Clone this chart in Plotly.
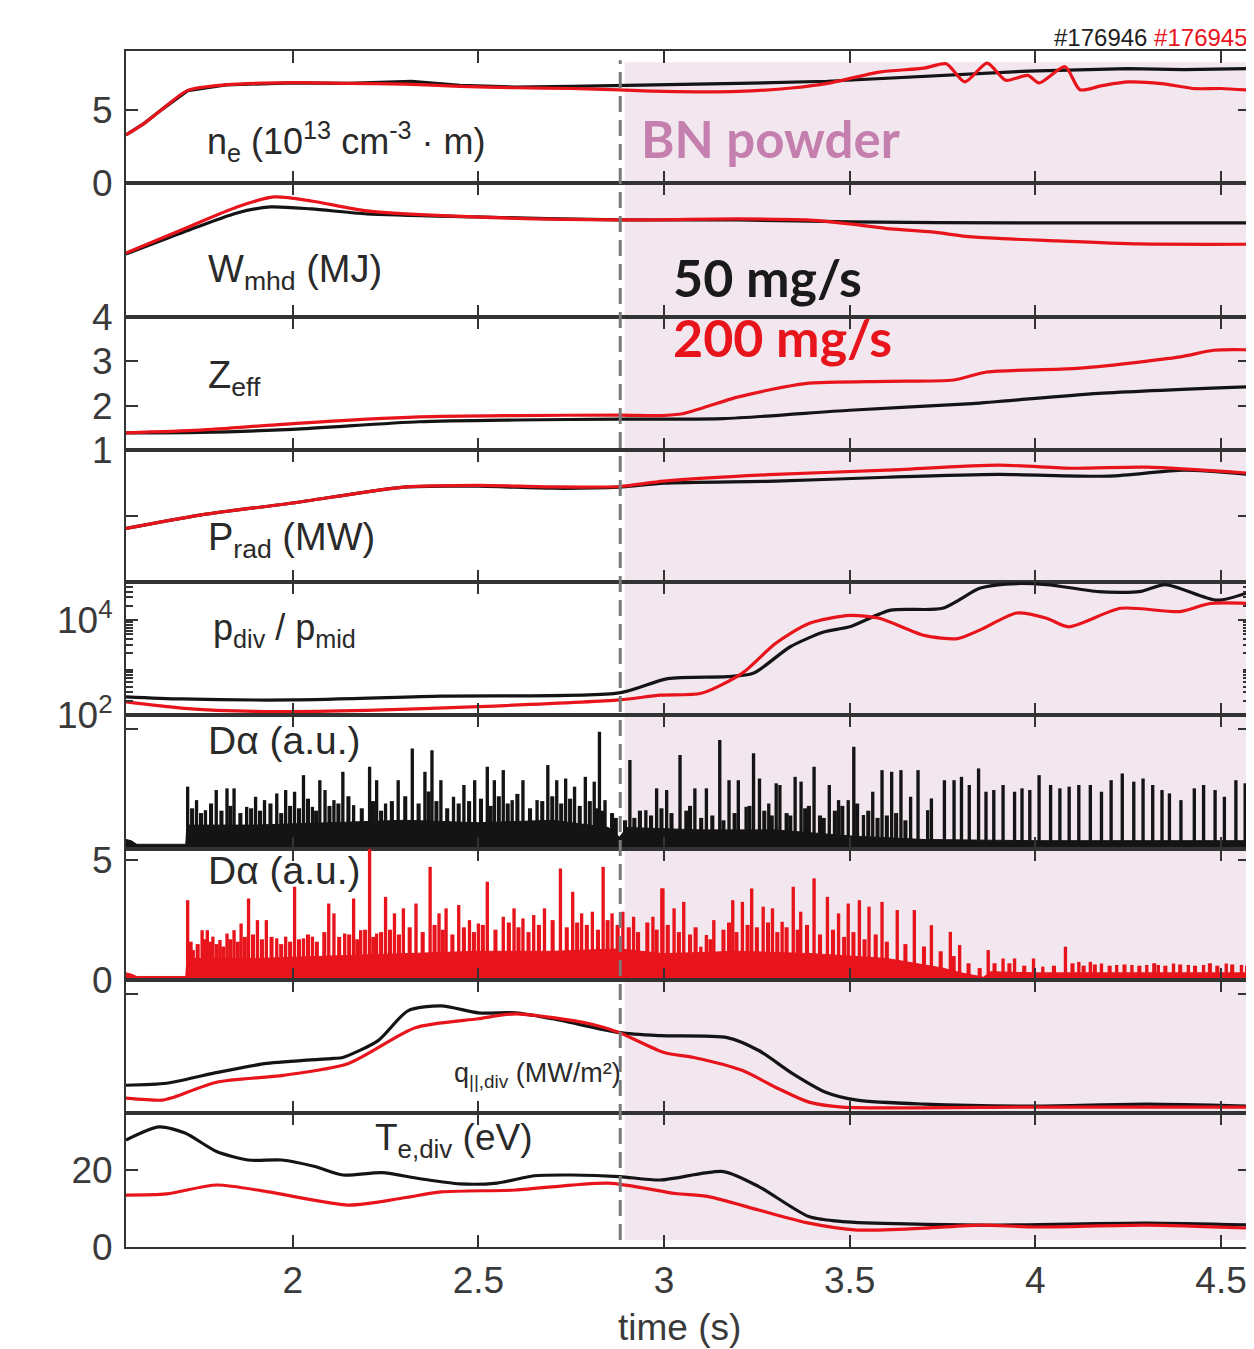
import plotly.graph_objects as go

# ---------------- data ----------------
t_ne_k = [1.551, 1.60, 1.65, 1.717, 1.82, 2.0, 2.15, 2.32, 2.45, 2.60, 2.75, 2.88, 3.0, 3.2, 3.44, 3.71, 3.98, 4.25, 4.40, 4.578]
ne_k = [3.3, 4.1, 5.1, 6.35, 6.75, 6.88, 6.85, 7.0, 6.72, 6.6, 6.65, 6.7, 6.72, 6.85, 7.0, 7.34, 7.7, 7.87, 7.8, 7.87]
t_ne_r = [1.551, 1.60, 1.65, 1.717, 1.82, 2.0, 2.15, 2.30, 2.45, 2.60, 2.75, 2.88, 3.0, 3.2, 3.35, 3.44, 3.58, 3.70, 3.76, 3.81,
          3.87, 3.92, 3.98, 4.01, 4.08, 4.12, 4.18, 4.25, 4.34, 4.43, 4.50, 4.578]
ne_r = [3.3, 4.1, 5.1, 6.37, 6.75, 6.9, 6.85, 6.8, 6.65, 6.55, 6.5, 6.4, 6.3, 6.3, 6.55, 6.85, 7.63, 7.9, 8.2, 6.95,
        8.25, 7.07, 7.4, 6.88, 8.0, 6.42, 6.7, 6.95, 6.84, 6.49, 6.5, 6.38]

t_w_k = [1.551, 1.70, 1.85, 1.94, 2.05, 2.2, 2.49, 2.88, 3.2, 3.5, 3.95, 4.578]
w_k = [0.63, 0.84, 1.04, 1.10, 1.08, 1.03, 1.0, 0.97, 0.97, 0.95, 0.94, 0.94]
t_w_r = [1.551, 1.70, 1.85, 1.95, 2.05, 2.2, 2.49, 2.88, 3.2, 3.385, 3.5, 3.61, 3.72, 3.83, 4.06, 4.28, 4.578]
w_r = [0.64, 0.87, 1.1, 1.2, 1.16, 1.06, 1.0, 0.97, 0.98, 0.97, 0.93, 0.88, 0.85, 0.80, 0.76, 0.73, 0.727]

t_z_k = [1.551, 1.75, 2.0, 2.34, 2.6, 2.88, 3.16, 3.5, 3.83, 4.17, 4.578]
z_k = [1.39, 1.40, 1.47, 1.64, 1.68, 1.70, 1.71, 1.9, 2.05, 2.28, 2.43]
t_z_r = [1.551, 1.75, 2.0, 2.34, 2.6, 2.88, 2.99, 3.05, 3.2, 3.38, 3.6, 3.78, 3.87, 4.11, 4.39, 4.48, 4.578]
z_r = [1.39, 1.45, 1.6, 1.75, 1.78, 1.79, 1.78, 1.82, 2.2, 2.5, 2.55, 2.58, 2.76, 2.84, 3.1, 3.25, 3.26]

t_p_k = [1.551, 1.75, 2.0, 2.3, 2.5, 2.7, 2.88, 3.0, 3.3, 3.6, 3.9, 4.2, 4.4, 4.578]
p_k = [2.44, 3.05, 3.6, 4.32, 4.36, 4.27, 4.32, 4.5, 4.59, 4.77, 4.9, 4.82, 5.09, 4.9]
t_p_r = [1.551, 1.75, 2.0, 2.3, 2.5, 2.7, 2.88, 3.0, 3.3, 3.6, 3.9, 4.1, 4.3, 4.578]
p_r = [2.44, 3.05, 3.6, 4.32, 4.4, 4.33, 4.35, 4.59, 4.9, 5.09, 5.32, 5.18, 5.23, 4.95]

t_pd_k = [1.551, 1.7, 2.0, 2.4, 2.88, 3.01, 3.17, 3.24, 3.34, 3.43, 3.5, 3.61, 3.75, 3.85, 3.92, 4.03, 4.17, 4.28, 4.35, 4.49, 4.578]
pd_k = [243, 219, 209, 251, 295, 589, 646, 759, 2754, 5623, 7244, 16218, 17783, 46774, 57544, 56234, 39811, 39811, 56234, 26303, 39811]
t_pd_r = [1.551, 1.7, 1.9, 2.2, 2.5, 2.88, 2.99, 3.10, 3.21, 3.30, 3.39, 3.5, 3.58, 3.70, 3.79, 3.85, 3.95, 4.03, 4.09, 4.23, 4.39, 4.47, 4.578]
pd_r = [190, 141, 120, 126, 151, 209, 263, 288, 759, 3236, 8511, 12589, 10965, 4786, 4074, 6166, 14125, 10965, 7244, 17783, 15136, 22387, 22387]

# D-alpha: inter-ELM level, large ELM spikes and smaller spikes (time, height)
t_da_base_k = [1.551, 1.565, 1.58, 1.712, 1.715, 1.9, 2.1, 2.3, 2.5, 2.7, 2.85, 2.88, 2.9, 3.1, 3.3, 3.5, 3.7, 4.0, 4.3, 4.578]
da_base_k = [0.4, 0.35, 0.2, 0.2, 1.0, 1.0, 1.1, 1.2, 1.1, 1.2, 0.9, 0.5, 0.9, 0.8, 0.8, 0.55, 0.4, 0.35, 0.35, 0.35]
elm_t_k = [1.717, 1.741, 1.765, 1.794, 1.823, 1.842, 1.876, 1.900, 1.924, 1.957, 1.981, 2.005, 2.029, 2.053, 2.073, 2.087,
           2.111, 2.135, 2.164, 2.207, 2.226, 2.250, 2.284, 2.322, 2.356, 2.375, 2.399, 2.433, 2.461, 2.490, 2.524, 2.543,
           2.567, 2.591, 2.620, 2.658, 2.687, 2.711, 2.735, 2.759, 2.788, 2.812, 2.826, 2.841, 2.908, 2.951, 2.980,
           3.007, 3.043, 3.083, 3.114, 3.150, 3.175, 3.200, 3.221, 3.241, 3.257, 3.282, 3.302, 3.312, 3.353, 3.369,
           3.404, 3.445, 3.470, 3.496, 3.511, 3.537, 3.562, 3.587, 3.613, 3.638, 3.664, 3.684, 3.710, 3.720, 3.755,
           3.781, 3.801, 3.822, 3.847, 3.867, 3.888, 3.913, 3.944, 3.964, 3.985, 4.010, 4.041, 4.066, 4.091, 4.117,
           4.148, 4.178, 4.204, 4.234, 4.265, 4.290, 4.316, 4.341, 4.361, 4.392, 4.428, 4.453, 4.484, 4.509, 4.540, 4.565]
elm_h_k = [2.60, 2.04, 1.62, 2.46, 2.53, 2.53, 1.76, 2.18, 2.04, 2.32, 2.46, 2.39, 3.08, 1.76, 2.87, 2.46,
           2.04, 3.22, 1.83, 3.43, 2.87, 1.90, 2.87, 4.19, 3.22, 4.12, 2.87, 2.18, 2.67, 2.87, 3.43, 2.87,
           3.29, 2.04, 2.87, 2.04, 3.50, 2.87, 2.94, 2.60, 3.01, 2.81, 4.89, 2.04, 3.71, 1.62, 2.53,
           2.46, 3.92, 2.53, 2.53, 4.54, 2.87, 2.87, 1.76, 3.99, 2.94, 1.90, 2.74, 2.67, 3.01, 2.81,
           3.43, 2.67, 2.04, 2.04, 4.26, 1.42, 2.39, 3.29, 3.22, 3.29, 2.18, 3.29, 1.62, 2.11, 2.87,
           2.87, 3.01, 2.67, 3.36, 2.39, 2.46, 2.67, 2.39, 2.53, 2.46, 3.08, 2.67, 2.53, 2.60, 2.67,
           2.67, 2.39, 2.87, 3.15, 2.81, 2.94, 2.67, 2.46, 2.32, 2.04, 2.53, 2.67, 2.46, 2.18, 2.87, 2.74]
small_t_k = [1.729, 1.753, 1.780, 1.808, 1.832, 1.859, 1.888, 1.912, 1.940, 1.969, 1.993, 2.017, 2.041, 2.063, 2.099,
             2.123, 2.150, 2.186, 2.216, 2.238, 2.267, 2.303, 2.339, 2.366, 2.387, 2.416, 2.447, 2.475, 2.507, 2.533,
             2.555, 2.579, 2.605, 2.639, 2.672, 2.699, 2.723, 2.747, 2.773, 2.800, 2.819, 2.834, 2.860, 2.870,
             2.895, 2.920, 2.935, 2.965, 2.993, 3.020, 3.060, 3.070, 3.100, 3.130, 3.160, 3.190, 3.230, 3.270, 3.290,
             3.330, 3.340, 3.380, 3.390, 3.420, 3.430, 3.460, 3.480, 3.520, 3.550, 3.575, 3.600, 3.625, 3.650]
small_h_k = [1.7, 1.5, 1.9, 1.6, 1.8, 1.5, 1.7, 1.6, 1.9, 1.5, 1.8, 1.7, 2.1, 1.6, 1.8,
             1.9, 2.2, 1.7, 2.0, 1.6, 2.0, 2.2, 1.9, 2.4, 2.0, 1.7, 1.9, 2.0, 2.1, 1.8,
             2.2, 1.9, 2.3, 1.7, 2.0, 2.2, 1.9, 2.1, 1.8, 2.0, 1.7, 1.6, 1.5, 1.3,
             1.2, 1.3, 1.6, 1.4, 1.7, 1.5, 1.6, 1.8, 1.3, 1.4, 1.2, 1.5, 1.8, 1.6, 1.4,
             1.5, 1.4, 1.7, 1.8, 1.4, 1.3, 1.6, 1.8, 1.9, 1.6, 1.3, 1.4, 1.5, 1.2]

t_da_base_r = [1.551, 1.565, 1.58, 1.712, 1.715, 1.9, 2.1, 2.3, 2.5, 2.7, 2.88, 3.0, 3.2, 3.4, 3.6, 3.75, 3.8, 3.86, 3.88, 4.0, 4.3, 4.578]
da_base_r = [0.3, 0.25, 0.15, 0.15, 0.9, 0.9, 1.0, 1.1, 1.2, 1.2, 1.3, 1.1, 1.2, 1.1, 0.9, 0.5, 0.3, 0.12, 0.35, 0.3, 0.3, 0.3]
elm_t_r = [1.717, 1.732, 1.756, 1.770, 1.785, 1.804, 1.823, 1.842, 1.861, 1.881, 1.905, 1.929, 1.957, 1.981, 2.005,
           2.029, 2.053, 2.097, 2.111, 2.140, 2.164, 2.183, 2.207, 2.226, 2.250, 2.274, 2.298, 2.332, 2.370, 2.394,
           2.413, 2.447, 2.476, 2.500, 2.524, 2.567, 2.596, 2.620, 2.649, 2.678, 2.721, 2.754, 2.778, 2.807, 2.836,
           2.860, 2.889, 2.918, 2.970, 2.994, 2.997, 3.027, 3.053, 3.099, 3.114, 3.134, 3.185, 3.211, 3.236, 3.267,
           3.292, 3.318, 3.348, 3.368, 3.404, 3.440, 3.470, 3.496, 3.526, 3.552, 3.587, 3.628, 3.674, 3.720, 3.771,
           3.796, 3.873, 3.913, 3.944, 3.995, 4.020, 4.081, 4.117, 4.148, 4.178, 4.219, 4.260, 4.300, 4.331, 4.372,
           4.412, 4.453, 4.514, 4.555]
elm_h_r = [3.33, 1.25, 2.08, 2.08, 1.81, 1.67, 1.94, 2.08, 2.36, 3.40, 2.50, 2.50, 1.74, 1.81, 3.89,
           1.74, 1.81, 3.19, 2.78, 1.94, 3.40, 2.08, 5.49, 1.94, 3.47, 2.78, 2.99, 3.19, 4.72, 2.78,
           2.99, 3.13, 2.50, 2.36, 4.10, 2.64, 2.99, 2.57, 2.71, 2.99, 4.65, 3.68, 2.78, 2.85, 4.72,
           2.78, 2.85, 2.64, 2.64, 3.82, 3.82, 2.99, 3.26, 1.39, 1.88, 2.50, 3.33, 3.26, 3.82, 3.06,
           2.99, 2.43, 3.89, 2.85, 4.24, 3.47, 2.78, 3.19, 3.33, 3.06, 3.26, 2.92, 2.92, 2.29, 2.01,
           1.46, 1.25, 0.90, 0.90, 0.90, 0.56, 1.39, 0.76, 0.76, 0.69, 0.63, 0.63, 0.63, 0.63, 0.69,
           0.63, 0.63, 0.69, 0.63]
small_t_r = [1.725, 1.744, 1.763, 1.778, 1.795, 1.813, 1.832, 1.852, 1.871, 1.893, 1.917, 1.943, 1.969, 1.993, 2.017,
             2.041, 2.065, 2.085, 2.125, 2.152, 2.174, 2.195, 2.217, 2.238, 2.262, 2.286, 2.315, 2.350, 2.382, 2.404,
             2.430, 2.461, 2.488, 2.512, 2.546, 2.582, 2.608, 2.635, 2.663, 2.700, 2.738, 2.766, 2.792, 2.822, 2.848, 2.875,
             2.905, 2.930, 2.955, 2.980, 3.010, 3.040, 3.070, 3.085, 3.125, 3.160, 3.175, 3.195, 3.225, 3.250, 3.280,
             3.305, 3.330, 3.360, 3.385, 3.420, 3.455, 3.485, 3.510, 3.540, 3.570, 3.600, 3.650, 3.700, 3.745, 3.780,
             3.820, 3.850, 3.890, 3.930, 3.970, 4.050, 4.100, 4.130, 4.160, 4.200, 4.240, 4.280, 4.320, 4.350, 4.390,
             4.430, 4.470, 4.490, 4.530, 4.570]
small_h_r = [1.6, 1.5, 1.7, 1.6, 1.5, 1.4, 1.7, 1.6, 1.8, 1.9, 1.7, 1.8, 1.5, 1.6, 1.7,
             1.9, 1.6, 2.0, 1.8, 1.9, 1.7, 2.1, 1.8, 2.0, 2.1, 1.9, 2.2, 2.0, 2.3, 2.1,
             1.9, 2.2, 2.0, 2.3, 2.1, 2.4, 2.2, 2.0, 2.3, 2.5, 2.2, 2.4, 2.3, 2.1, 2.5, 2.3,
             2.2, 2.0, 2.4, 2.1, 2.3, 2.0, 1.9, 2.2, 1.7, 2.1, 2.4, 2.0, 2.3, 2.2, 2.4,
             2.0, 2.2, 2.1, 2.3, 1.9, 2.1, 1.8, 2.0, 1.7, 1.9, 1.6, 1.5, 1.4, 1.2, 1.0,
             0.7, 0.5, 0.7, 0.7, 0.6, 0.6, 0.7, 0.6, 0.65, 0.6, 0.65, 0.6, 0.7, 0.6, 0.65,
             0.6, 0.7, 0.6, 0.65, 0.6]

t_q_k = [1.551, 1.66, 1.785, 1.93, 2.11, 2.135, 2.23, 2.31, 2.40, 2.5, 2.6, 2.7, 2.88, 2.99, 3.17, 3.255, 3.345, 3.435, 3.52, 3.70, 4.0, 4.3, 4.578]
q_k = [0.28, 0.30, 0.40, 0.50, 0.55, 0.56, 0.73, 1.03, 1.08, 1.01, 1.01, 0.95, 0.81, 0.78, 0.76, 0.63, 0.40, 0.21, 0.13, 0.09, 0.07, 0.09, 0.07]
t_q_r = [1.551, 1.65, 1.68, 1.795, 1.975, 2.15, 2.33, 2.5, 2.6, 2.8, 2.88, 3.0, 3.08, 3.21, 3.30, 3.39, 3.48, 4.0, 4.578]
q_r = [0.15, 0.13, 0.16, 0.31, 0.38, 0.50, 0.86, 0.95, 1.0, 0.9, 0.81, 0.61, 0.56, 0.43, 0.26, 0.11, 0.06, 0.06, 0.06]

t_te_k = [1.551, 1.64, 1.71, 1.795, 1.88, 1.97, 2.06, 2.135, 2.24, 2.34, 2.45, 2.55, 2.65, 2.75, 2.88, 2.99, 3.16, 3.255, 3.39, 3.48, 3.85, 4.3, 4.578]
te_k = [27.8, 31.2, 29.6, 24.8, 22.6, 22.6, 20.9, 18.7, 19.3, 17.8, 16.4, 16.6, 18.5, 18.7, 18.3, 17.4, 19.6, 15.7, 7.9, 6.6, 5.7, 6.2, 5.7]
t_te_r = [1.551, 1.66, 1.795, 1.93, 2.15, 2.29, 2.4, 2.6, 2.85, 3.03, 3.12, 3.255, 3.39, 3.52, 3.70, 3.85, 4.0, 4.3, 4.578]
te_r = [13.5, 13.8, 16.1, 14.4, 10.9, 12.6, 14.3, 14.8, 16.6, 13.9, 13.1, 9.6, 6.2, 4.4, 4.9, 5.7, 5.2, 5.7, 4.9]

t_powder = 2.882
x_ticks = [2, 2.5, 3, 3.5, 4, 4.5]
x_ticklabels = ["2", "2.5", "3", "3.5", "4", "4.5"]
pdiv_minor = [200, 300, 400, 500, 600, 700, 800, 900, 2000, 3000, 4000, 5000, 6000, 7000, 8000, 9000,
              20000, 30000, 40000, 50000, 60000]

# ---------------- styling / layout ----------------
BLACK = "#141414"
RED = "#e8141c"
AX = "#333333"
TICKC = "#3a3a3a"
FONT = "Liberation Sans, Arial, sans-serif"
OFF = 8                      # page offset of the plot div (body margin)
PW, PH = 1254, 1349          # page size
W, H = PW - OFF, PH - OFF    # figure size
L, R, T, B = 126, 1252, 50.7, 1247   # plot area in page pixels
bounds = [50.7, 182.7, 316.7, 450, 582, 715, 849, 980, 1113, 1247]
XR = [1.551, 4.578]


def xp(px):
    return (px - L) / (R - L)


def yp(py):
    return (B - py) / (B - T)


fig = go.Figure()


def line(i, x, y, color, shape="spline"):
    fig.add_trace(go.Scatter(x=x, y=y, mode="lines", xaxis=f"x{i}", yaxis=f"y{i}",
                             line=dict(color=color, width=3.2, shape=shape, smoothing=0.7),
                             showlegend=False, hoverinfo="skip"))


line(1, t_ne_k, ne_k, BLACK, "linear")
line(1, t_ne_r, ne_r, RED, "spline")
line(2, t_w_k, w_k, BLACK)
line(2, t_w_r, w_r, RED)
line(3, t_z_k, z_k, BLACK)
line(3, t_z_r, z_r, RED)
line(4, t_p_k, p_k, BLACK)
line(4, t_p_r, p_r, RED)
line(5, t_pd_k, pd_k, BLACK)
line(5, t_pd_r, pd_r, RED)

for i, tb, vb, te, he, ts, hs, col in [
        (6, t_da_base_k, da_base_k, elm_t_k, elm_h_k, small_t_k, small_h_k, BLACK),
        (7, t_da_base_r, da_base_r, elm_t_r, elm_h_r, small_t_r, small_h_r, RED)]:
    fig.add_trace(go.Scatter(x=tb, y=vb, mode="lines", fill="tozeroy", fillcolor=col,
                             line=dict(color=col, width=1), xaxis=f"x{i}", yaxis=f"y{i}",
                             showlegend=False, hoverinfo="skip"))
    fig.add_trace(go.Bar(x=ts, y=hs, width=0.011, marker=dict(color=col, line=dict(width=0)),
                         xaxis=f"x{i}", yaxis=f"y{i}", showlegend=False, hoverinfo="skip"))
    fig.add_trace(go.Bar(x=te, y=he, width=0.009, marker=dict(color=col, line=dict(width=0)),
                         xaxis=f"x{i}", yaxis=f"y{i}", showlegend=False, hoverinfo="skip"))

line(8, t_q_k, q_k, BLACK)
line(8, t_q_r, q_r, RED)
line(9, t_te_k, te_k, BLACK)
line(9, t_te_r, te_r, RED)

yspecs = {
    1: dict(range=[0, 9.08], tickvals=[0, 5], ticktext=["0", "5"]),
    2: dict(range=[0, 1.34], tickvals=[], ticktext=[]),
    3: dict(range=[1, 4], tickvals=[1, 2, 3, 4], ticktext=["1", "2", "3", "4"]),
    4: dict(range=[0, 6], tickvals=[3], ticktext=[""]),
    5: dict(type="log", range=[2, 4.8], tickvals=[100, 10000],
            ticktext=["10<sup>2</sup>", "10<sup>4</sup>"]),
    6: dict(range=[0, 5.58], tickvals=[5], ticktext=[""]),
    7: dict(range=[0, 5.46], tickvals=[0, 5], ticktext=["0", "5"]),
    8: dict(range=[0, 1.34], tickvals=[1.2], ticktext=[""]),
    9: dict(range=[0, 34.8], tickvals=[0, 20], ticktext=["0", "20"]),
}

layout = dict(width=W, height=H, margin=dict(l=L - OFF, r=PW - R, t=T - OFF, b=PH - B),
              paper_bgcolor="white", plot_bgcolor="rgba(0,0,0,0)", barmode="overlay",
              font=dict(family=FONT, size=37, color=TICKC), showlegend=False)

for i in range(1, 10):
    top, bot = bounds[i - 1], bounds[i]
    xa = dict(domain=[0, 1], range=XR, tickvals=x_ticks, ticktext=x_ticklabels,
              showticklabels=(i == 9), ticks="inside", ticklen=12, tickwidth=2, tickcolor=AX,
              showline=True, linecolor=AX, linewidth=2, mirror="ticks", showgrid=False,
              zeroline=False, anchor=f"y{i}", tickfont=dict(size=37, color=TICKC, family=FONT))
    if i != 1:
        xa["matches"] = "x"
    ya = dict(domain=[yp(bot), yp(top)], anchor=f"x{i}", ticks="inside", ticklen=12, tickwidth=2,
              tickcolor=AX, showline=True, linecolor=AX, linewidth=2, mirror="ticks",
              showgrid=False, zeroline=False, tickmode="array", ticklabelstandoff=4,
              tickfont=dict(size=37, color=TICKC, family=FONT))
    ya.update(yspecs[i])
    if i == 5:
        ya["minor"] = dict(tickmode="array", tickvals=pdiv_minor, ticks="inside", ticklen=7,
                           tickcolor=AX, tickwidth=1.5, showgrid=False)
    layout["xaxis" if i == 1 else f"xaxis{i}"] = xa
    layout["yaxis" if i == 1 else f"yaxis{i}"] = ya

fig.update_layout(**layout)

# BN powder shading and dashed marker
fig.add_shape(type="rect", xref="x", yref="paper", x0=t_powder + 0.012, x1=XR[1],
              y0=yp(1240), y1=yp(62), fillcolor="rgb(242,231,238)", line=dict(width=0), layer="below")
fig.add_shape(type="line", xref="x", yref="paper", x0=t_powder, x1=t_powder,
              y0=yp(1240), y1=yp(60), line=dict(color="#7a7a7a", width=3, dash="16px,8px"), layer="above")

TXT = "#2a2a2a"
labels = [
    ("n<sub>e</sub> (10<sup>13</sup> cm<sup>-3</sup> · m)", 205, 141, 36),
    ("W<sub>mhd</sub> (MJ)", 206, 272, 38),
    ("Z<sub>eff</sub>", 206, 378, 38),
    ("P<sub>rad</sub> (MW)", 206, 540, 38),
    ("p<sub>div</sub> / p<sub>mid</sub>", 211, 630, 36),
    ("Dα (a.u.)", 206, 740, 39),
    ("Dα (a.u.)", 206, 870, 39),
    ("q<sub>||,div</sub> (MW/m²)", 453, 1075, 27),
    ("T<sub>e,div</sub> (eV)", 373, 1140, 37),
]
for txt, px, py, fs in labels:
    fig.add_annotation(text=txt, xref="paper", yref="paper", x=xp(px), y=yp(py), xanchor="left",
                       yanchor="middle", showarrow=False, font=dict(size=fs, color=TXT, family=FONT))

fig.add_annotation(text="time (s)", xref="paper", yref="paper", x=xp(680), y=yp(1328),
                   xanchor="center", yanchor="middle", showarrow=False,
                   font=dict(size=37, color=TICKC, family=FONT))

BOLD = "Lato, Open Sans, sans-serif"
fig.add_annotation(text="<b>BN powder</b>", xref="paper", yref="paper", x=xp(640), y=yp(138),
                   xanchor="left", yanchor="middle", showarrow=False,
                   font=dict(size=51, color="#c47fae", family=BOLD))
fig.add_annotation(text="<b>50 mg/s</b>", xref="paper", yref="paper", x=xp(672), y=yp(277),
                   xanchor="left", yanchor="middle", showarrow=False,
                   font=dict(size=52, color="#1a1a1a", family=BOLD))
fig.add_annotation(text="<b>200 mg/s</b>", xref="paper", yref="paper", x=xp(672), y=yp(337),
                   xanchor="left", yanchor="middle", showarrow=False,
                   font=dict(size=52, color=RED, family=BOLD))
fig.add_annotation(text="#176946 <span style='color:#e8141c'>#176945</span>", xref="paper", yref="paper",
                   x=1.0, y=yp(37), xanchor="right", yanchor="middle", showarrow=False,
                   font=dict(size=24, color="#222222", family=FONT))

fig.write_html("out.html")
